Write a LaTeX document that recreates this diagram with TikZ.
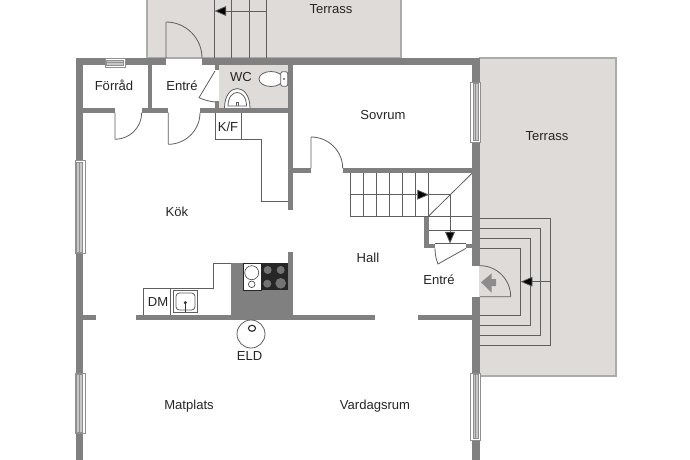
\documentclass[tikz,border=0pt]{standalone}
\usepackage{fontspec}
\setmainfont{Liberation Sans}
\usetikzlibrary{arrows.meta,calc}
\definecolor{wallgray}{HTML}{808080}
\definecolor{terrassfill}{HTML}{DFDBD8}
\definecolor{terrassedge}{HTML}{ABABA8}
\definecolor{linegray}{HTML}{5F5F5F}
\newcommand{\doorswing}[3]{(#1) .. controls ($(#1)!.5523!(#2)$) and ($(#3)!.5523!(#2)$) .. (#3)}
\begin{document}
\begin{tikzpicture}
[x=0.75pt,y=-0.75pt,
  walldecorate/.style={fill=wallgray,draw=none},%
  terrassdecorate/.style={fill=terrassfill,draw=terrassedge,line width=0.9pt},%
  linedecorate/.style={draw=linegray,line width=0.6pt},%
  arrowdecorate/.style={linedecorate,-{Triangle[length=8.8pt,width=7.4pt,fill=black]}},%
  windowdecorate/.style={fill=white,draw=linegray!70,line width=0.5pt},%
  labeldecorate/.style={inner sep=0pt,text height=7pt,text depth=0pt,
    font=\fontsize{9.8}{11}\selectfont,text=black!85}]
\useasboundingbox (0,0) rectangle (690,460);
\fill[white] (0,0) rectangle (690,460);
%% terraces and wc floor
\draw[terrassdecorate] (147,0) -- (147,58) -- (401,58) -- (401,0);
\draw[terrassdecorate] (479,58) -- (616,58) -- (616,376) -- (479,376);
\fill[terrassfill] (219,65) rectangle (288,108.3);
%% outside stairs
\foreach \xpos in {214.3,231.7,249,266.3}
{
  \draw[linedecorate] (\xpos,0) -- (\xpos,58);
}
\foreach \xpos/\ytop/\ybot in {550.7/218.3/345.3, 540.7/228.3/335.3,
  530.7/238.3/325.7, 520.7/248.3/315.7}
{
  \draw[linedecorate] (479,\ytop) -- (\xpos,\ytop) -- (\xpos,\ybot) -- (479,\ybot);
}
\draw[arrowdecorate] (266.3,11) -- (214.5,11);
\draw[arrowdecorate] (550.7,281.7) -- (520.7,281.7);
%% kitchen and closet fittings
\draw[linedecorate] (143.3,315.3) -- (143.3,288.3) -- (213.3,288.3) -- (213.3,263.3) -- (231,263.3);
\draw[linedecorate] (170.3,288.3) -- (170.3,315.3);
\draw[linedecorate] (215,112.7) -- (215,139.3) -- (261,139.3) -- (261,201) -- (288,201);
\draw[linedecorate] (241.7,112.7) -- (241.7,139.3);
%% walls
\foreach \xa/\ya/\xb/\yb in {76/58/166/65, 202/58/480/65, 76/58/83/460,
  472/58/480/265.7, 472/296.7/480/460, 147.5/65/151.7/112.7,
  83/108.3/115/112.7, 141.7/108.3/168.3/112.7, 200/108.3/292.7/112.7,
  215/65/219/70.5, 215/101/219/108.3, 288/65/292.7/210, 288/251.7/292.7/316,
  292/168.3/311/173.3, 342.7/168.3/472/173.3, 424.3/216.5/429/248.3,
  424.3/243.5/435/248.3, 466/243.5/472/248.3, 83/314.7/95.7/320,
  136/315.3/375/320, 417.7/315.3/472/319.5, 231/263.3/288/316}
{
  \fill[walldecorate] (\xa,\ya) rectangle (\xb,\yb);
}
%% windows
\foreach \xa/\ya/\xb/\yb/\xc/\yc/\xd/\yd in {75.5/160.7/85.3/253.3/76.5/162/82/252,
  75.5/373.3/85.3/433.3/76.5/374.6/82/432, 470/82/480/142/473/83.3/478.5/140.7,
  470/373.3/480/440/473/374.6/478.5/438.7, 105/58/125/67.7/106.3/60.5/123.7/65}
{
  \draw[windowdecorate] (\xa,\ya) rectangle (\xb,\yb);
  \draw[windowdecorate,fill=black!22] (\xc,\yc) rectangle (\xd,\yd);
}
\draw[linegray!70,line width=0.4pt] (78.8,162) -- (78.8,252) (78.8,374.6) -- (78.8,432)
  (475.7,83.3) -- (475.7,140.7) (475.7,374.6) -- (475.7,438.7) (106.3,62.7) -- (123.7,62.7);
%% doors
\draw[linedecorate] (166,58) -- (166,22) \doorswing{166,22}{202,22}{202,58};
\draw[linedecorate] (115,112.7) -- (115,139.3) \doorswing{115,139.3}{141.7,139.3}{141.7,112.7};
\draw[linedecorate] (168.3,112.7) -- (168.3,144.3) \doorswing{168.3,144.3}{200,144.3}{200,112.7};
\draw[linedecorate] (215,71) -- (199,97.7) .. controls (204,100) and (210,101.5) .. (215,102);
\draw[linedecorate] (311,168.3) -- (311,137) \doorswing{311,137}{342.7,137}{342.7,168.3};
\draw[linedecorate] (466,248.3) -- (438,264) .. controls (436,259) and (435,254) .. (435,248.3);
\draw[linedecorate] (435,243.7) -- (466,243.7);
\draw[linedecorate] (480,296.7) -- (510.7,296.7) \doorswing{510.7,296.7}{510.7,265.7}{480,265.7};
\fill[black!45] (481,282.3) -- (491.7,273.3) -- (491.7,279) -- (496,279) -- (496,286)
  -- (491.7,286) -- (491.7,292.7) -- cycle;
%% indoor stairs
\foreach \xpos in {350.3,363.3,376.7,389.7,402.7,415.7,428.7}
{
  \draw[linedecorate] (\xpos,173.3) -- (\xpos,216);
}
\draw[linedecorate] (350.3,216) -- (472,216) (429,230) -- (472,230);
\draw[linedecorate] (428.7,216) -- (472,173.3);
\draw[arrowdecorate] (350.3,194.7) -- (429,194.7);
\draw[linedecorate] (429,194.7) -- (450,194.7);
\draw[arrowdecorate] (450,194.7) -- (450,243.5);
%% stove
\fill[black!85] (261,263.3) rectangle (287.7,290);
\draw[fill=white,draw=black!85,line width=0.7pt] (243.3,263.5) rectangle (261,290);
\draw[fill=white,draw=black!70,line width=0.5pt] (251.7,272.7) circle (7);
\draw[fill=white,draw=black!70,line width=0.5pt] (251.7,284.3) circle (3.3);
\foreach \cx/\cy/\rad in {267.7/270/4, 280.7/270/4, 267.3/283.7/4, 280.7/283.3/5.3}
{
  \fill[black!55] (\cx,\cy) circle (\rad);
}
%% sink
\draw[windowdecorate,draw=linegray,line width=0.7pt] (173.3,290) rectangle (197.7,312.7);
\draw[linedecorate,fill=white,rounded corners=2.5pt] (176,293) rectangle (195,310);
\fill[black!80] (185.3,302.7) circle (1.7);
\draw[black!80,line width=0.6pt] (185.3,302.7) -- (185.3,311.5);
%% toilet and basin
\draw[linedecorate,fill=white] (271,79) ellipse (12 and 7.5);
\draw[linedecorate,fill=white,rounded corners=1.5pt] (280.7,71.7) rectangle (287.7,86.3);
\fill[black!60] (284,79) circle (1.1);
\draw[linedecorate,fill=white] (224.5,108.3) .. controls (224.5,82) and (250,82) .. (250,108.3);
\draw[linedecorate] (228,106) .. controls (228,88) and (246.5,88) .. (246.5,106) -- cycle;
\draw[linedecorate] (236.5,106) -- (236.5,102.5) -- (238.5,102.5) -- (238.5,106);
%% fireplace
\draw[linedecorate,fill=white] (251,334) circle (14);
\draw[draw=black!85,line width=0.8pt] (252,328.3) ellipse (3.6 and 3);
%% labels
\foreach \nodename/\x/\y/\labeltext in {terrasstop/331/9/Terrass,
  terrassright/547/136/Terrass, forrad/114/86/Förråd, entretop/182/86/Entré,
  wc/241/77/WC, kf/228/127/K\slash F, sovrum/383/115/Sovrum, kok/177/212/Kök,
  hall/368/258/Hall, entrebot/439/280/Entré, dm/158/302/DM, eld/249.5/356/ELD,
  matplats/189/405/Matplats, vardagsrum/375/405/Vardagsrum}
{
  \node (\nodename) at (\x,\y) [labeldecorate] {\labeltext};
}
\end{tikzpicture}
\end{document}
